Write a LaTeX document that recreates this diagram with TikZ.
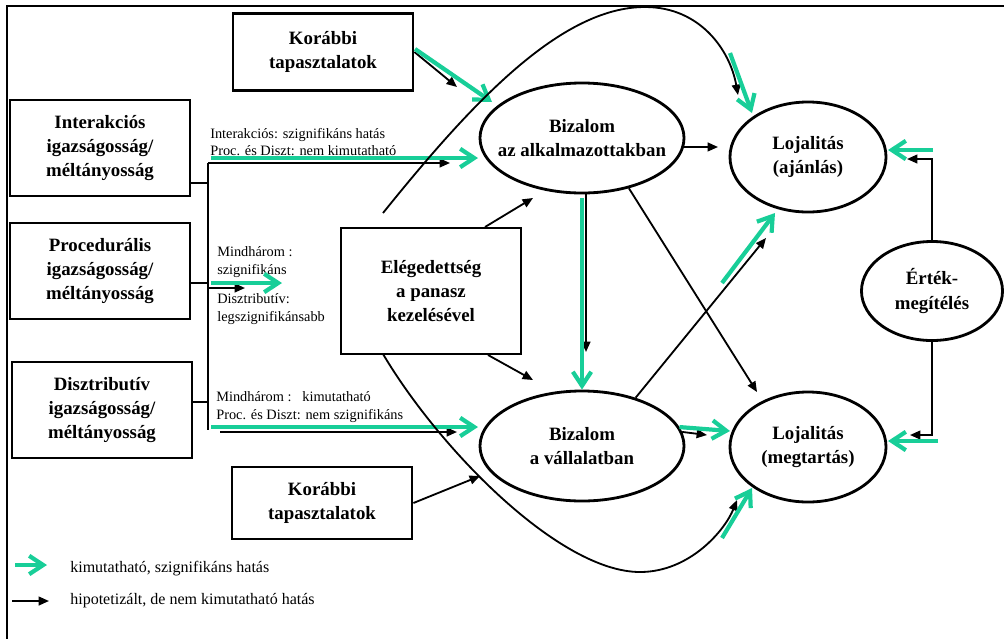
\documentclass[tikz,border=0pt]{standalone}
\usepackage{fontspec}
\setmainfont{Liberation Serif}
\usetikzlibrary{shapes.geometric,arrows.meta}
\definecolor{sigc}{RGB}{24,206,152}
\begin{document}
\begin{tikzpicture}[x=0.025cm, y=-0.025cm,
  box/.style={draw, line width=2pt, inner sep=0pt, align=center, minimum width=4.5cm, font=\fontsize{13.4}{17}\selectfont\bfseries},
  oval/.style={draw, ellipse, line width=2pt, inner xsep=-8mm, inner ysep=0pt, align=center, font=\fontsize{13.4}{17.5}\selectfont\bfseries},
  hyp/.style={line width=1.3pt, -{Triangle[length=2.6mm,width=2.2mm]}},
  sig/.style={draw=sigc, line width=3pt, -{Straight Barb[length=3.5mm,width=4.6mm]}},
  bus/.style={line width=2pt},
  note/.style={anchor=west, inner sep=0pt, align=left, font=\fontsize{10.2}{12.5}\selectfont}]
\useasboundingbox (0,0) rectangle (1004,639);
\draw[line width=2pt] (1004,6) -- (7,6) -- (7,639);

\node[box, minimum height=1.925cm] (korabbiA) at (323,52){Korábbi\\tapasztalatok};
\node[box, minimum height=2.4cm] (interakcios) at (100,148){Interakciós\\igazságosság/\\méltányosság};
\node[box, minimum height=2.4cm] (proceduralis) at (100,271){Procedurális\\igazságosság/\\méltányosság};
\node[box, minimum height=2.4cm] (disztributiv) at (102,410){Disztributív\\igazságosság/\\méltányosság};
\node[box, minimum height=1.8cm] (korabbiB) at (322,503){Korábbi\\tapasztalatok};
\node[box, minimum height=3.15cm] (elegedettseg) at (431,291){Elégedettség\\a panasz\\kezelésével};
\node[oval, minimum width=5.1cm, minimum height=2.75cm] (bizalomAlk) at (582,138){Bizalom\\az alkalmazottakban};
\node[oval, minimum width=3.9cm, minimum height=2.75cm] (lojalitasAj) at (808,157){Lojalitás\\(ajánlás)};
\node[oval, minimum width=3.525cm, minimum height=2.475cm] (ertek) at (932,291){Érték-\\megítélés};
\node[oval, minimum width=5.1cm, minimum height=2.75cm] (bizalomVal) at (582,446){Bizalom\\a vállalatban};
\node[oval, minimum width=3.9cm, minimum height=2.75cm] (lojalitasMeg) at (808,447){Lojalitás\\(megtartás)};

\node[note] (noteI) at (210,142){Interakciós: szignifikáns hatás\\Proc. és Diszt: nem kimutatható};
\node[note] (noteM) at (217,262){Mindhárom :\\szignifikáns};
\node[note] (noteD) at (217,309){Disztributív:\\legszignifikánsabb};
\node[note] (noteK) at (216,407){Mindhárom :\ \ \ kimutatható\\Proc. és Diszt: nem szignifikáns};

\coordinate (busTop) at (208,163);
\coordinate (busBot) at (208,430);
\coordinate (busI) at (208,183);
\coordinate (busP) at (208,283);
\coordinate (busD) at (208,402);
\draw[bus](busTop) -- (busBot);
\draw[bus](interakcios.east |- busI) -- (busI);
\draw[bus](proceduralis.east |- busP) -- (busP);
\draw[bus](disztributiv.east |- busD) -- (busD);

\coordinate (topHyp) at (450,163);
\coordinate (topSigA) at (211,158);
\coordinate (topSigB) at (478,158);
\draw[hyp](busTop) -- (topHyp);
\draw[sig](topSigA) -- (topSigB);
\coordinate (midHypA) at (208,288);
\coordinate (midHypB) at (245,288);
\coordinate (midSigA) at (211,283);
\coordinate (midSigB) at (282,283);
\draw[hyp](midHypA) -- (midHypB);
\draw[sig](midSigA) -- (midSigB);
\coordinate (botHypA) at (220,432);
\coordinate (botHypB) at (457,432);
\coordinate (botSigA) at (211,427);
\coordinate (botSigB) at (478,427);
\draw[hyp](botHypA) -- (botHypB);
\draw[sig](botSigA) -- (botSigB);

\coordinate (kaHyp) at (457,87);
\coordinate (kaSigA) at (415,49);
\coordinate (kaSigB) at (492,102);
\draw[hyp](korabbiA.east) -- (kaHyp);
\draw[sig](kaSigA) -- (kaSigB);

\coordinate (arcTopA) at (383,213);
\coordinate (arcTopB) at (738,95);
\draw[hyp](arcTopA) .. controls (470,105) and (560,7) .. (645,7) .. controls (700,7) and (730,50) .. (arcTopB);
\coordinate (arcTopSigA) at (730,53);
\coordinate (arcTopSigB) at (752,113);
\draw[sig](arcTopSigA) -- (arcTopSigB);

\coordinate (baTip) at (718,147);
\draw[hyp](bizalomAlk.-5) -- (baTip);

\coordinate (ajSigA) at (933,150);
\coordinate (ajSigB) at (888,150);
\coordinate (ajHyp) at (907,159);
\draw[hyp](ertek.north) |- (ajHyp);
\draw[sig](ajSigA) -- (ajSigB);
\coordinate (megSigA) at (938,441);
\coordinate (megSigB) at (888,441);
\coordinate (megHyp) at (910,435);
\draw[hyp](ertek.south) |- (megHyp);
\draw[sig](megSigA) -- (megSigB);

\coordinate (egAlkA) at (485,227);
\coordinate (egAlkB) at (533,198);
\draw[hyp](egAlkA) -- (egAlkB);
\coordinate (egValA) at (488,355);
\coordinate (egValB) at (533,380);
\draw[hyp](egValA) -- (egValB);

\coordinate (avHypA) at (586,193);
\coordinate (avHypB) at (586,352);
\coordinate (avSigA) at (582,198);
\draw[hyp](avHypA) -- (avHypB);
\draw[sig](avSigA) -- (bizalomVal.north);

\coordinate (amTip) at (757,392);
\draw[hyp](bizalomAlk.-47) -- (amTip);

\coordinate (vaTip) at (766,238);
\coordinate (vaSigA) at (722,283);
\coordinate (vaSigB) at (775,213);
\draw[hyp](bizalomVal.42) -- (vaTip);
\draw[sig](vaSigA) -- (vaSigB);

\coordinate (vmTip) at (707,435);
\coordinate (vmSigB) at (730,431);
\draw[hyp](bizalomVal.8) -- (vmTip);
\draw[sig](bizalomVal.11) -- (vmSigB);

\coordinate (kbTip) at (480,476);
\draw[hyp](korabbiB.east) -- (kbTip);

\coordinate (arcBotA) at (383,354);
\coordinate (arcBotB) at (737,500);
\draw[hyp](arcBotA) .. controls (440,450) and (560,572) .. (640,572) .. controls (690,572) and (725,530) .. (arcBotB);
\coordinate (arcBotSigA) at (722,538);
\coordinate (arcBotSigB) at (752,488);
\draw[sig](arcBotSigA) -- (arcBotSigB);

\coordinate (legSigA) at (15,565);
\coordinate (legSigB) at (47,565);
\coordinate (legHypA) at (12,601);
\coordinate (legHypB) at (49,601);
\draw[sig](legSigA) -- (legSigB);
\draw[hyp](legHypA) -- (legHypB);
\node[note, font=\fontsize{11.4}{13}\selectfont] (legSig) at (70,569){kimutatható, szignifikáns hatás};
\node[note, font=\fontsize{11.4}{13}\selectfont] (legHyp) at (70,601){hipotetizált, de nem kimutatható hatás};

\end{tikzpicture}
\end{document}
